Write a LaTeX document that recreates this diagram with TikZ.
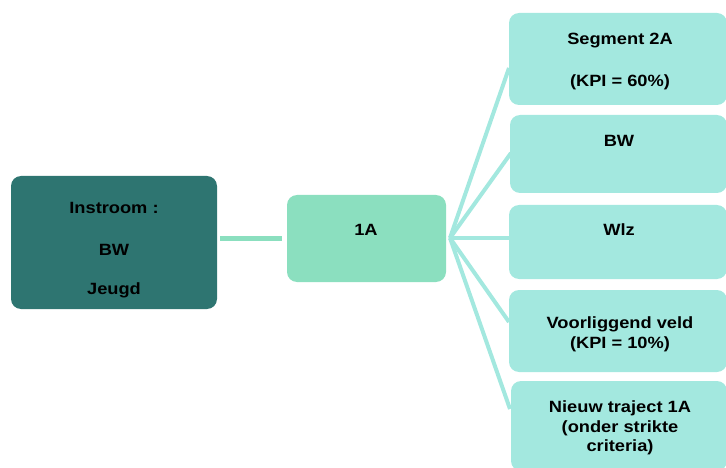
\documentclass[tikz,border=0pt]{standalone}
\usepackage{fontspec}
\newfontfamily\lblfont{Liberation Sans}[FakeStretch=1.12]
\usetikzlibrary{calc}
\definecolor{darkteal}{HTML}{2E7571}
\definecolor{midgreen}{HTML}{8BDFBF}
\definecolor{lightaqua}{HTML}{A3E8DF}
\tikzset{
  box/.style={rounded corners=10pt, inner sep=0pt, outer sep=0pt, draw=none},
  lbl/.style={inner sep=0pt, outer sep=0pt, anchor=base, align=center,
    font=\lblfont\bfseries\fontsize{16.3}{19.5}\selectfont, text=black},
  link/.style={line width=4pt, draw=lightaqua},
}
\begin{document}
\begin{tikzpicture}[x=1pt, y=-1pt]
\useasboundingbox (0,0) rectangle (726,468);
\clip (0,0) rectangle (726,468);
% boxes
\node[box, fill=darkteal, minimum width=206pt, minimum height=133pt] (L) at (114,242.5) {};
\node[box, fill=midgreen, minimum width=159pt, minimum height=87pt] (M) at (366.5,238.5) {};
\node[box, fill=lightaqua, minimum width=218pt, minimum height=92pt] (S) at (618,59) {};
\node[box, fill=lightaqua, minimum width=217pt, minimum height=78pt] (B) at (618.5,154) {};
\node[box, fill=lightaqua, minimum width=218pt, minimum height=74pt] (W) at (618,242) {};
\node[box, fill=lightaqua, minimum width=218pt, minimum height=82pt] (V) at (618,331) {};
\node[box, fill=lightaqua, minimum width=216pt, minimum height=90pt] (N) at (619,426) {};
% connectors
\draw[line width=5pt, draw=midgreen, shorten <=3pt, shorten >=5pt] (L.east |- M.west) -- (M.west);
\coordinate (fan) at (450,238);
\draw[link] (fan) -- ([yshift=-9pt]S.west);
\draw[link] (fan) -- ([xshift=1pt,yshift=1pt]B.west);
\draw[link] (fan) -- ([yshift=4pt]W.west);
\draw[link] (fan) -- ([yshift=9pt]V.west);
\draw[link] (fan) -- ([xshift=-1pt,yshift=17pt]N.west);
% texts
\node[lbl] (tL1) at (114,214) {Instroom :};
\node[lbl] (tL2) at (114,255) {BW};
\node[lbl] (tL3) at (114,294) {Jeugd};
\node[lbl] (tM) at (366,236) {1A};
\node[lbl] (tS1) at (620,44.3) {Segment 2A};
\node[lbl] (tS2) at (620,86.5) {(KPI = 60\%)};
\node[lbl] (tB) at (619,146.7) {BW};
\node[lbl] (tW) at (619,235) {Wlz};
\node[lbl] (tV) at (620,348.3) {Voorliggend veld\\(KPI = 10\%)};
\node[lbl] (tN) at (620,451.7) {Nieuw traject 1A\\(onder strikte\\criteria)};
\end{tikzpicture}
\end{document}
